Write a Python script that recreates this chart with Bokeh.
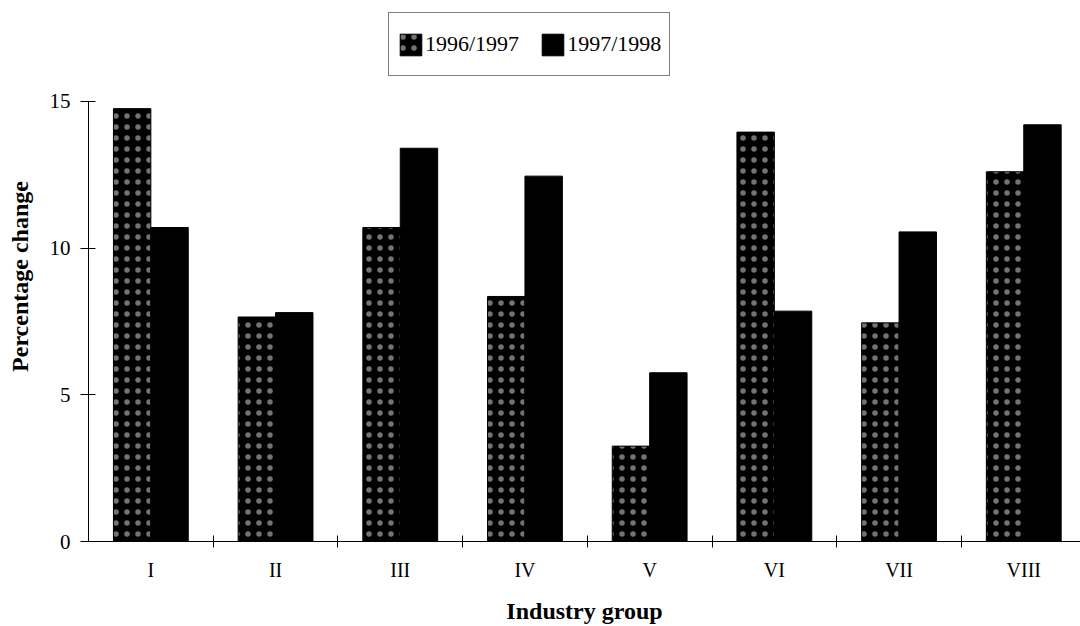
from bokeh.plotting import figure
from bokeh.models import Range1d, FixedTicker, Legend, LegendItem, ColumnDataSource
from bokeh.embed import file_html
from bokeh.resources import INLINE

# ---- data ----
groups = ["I", "II", "III", "IV", "V", "VI", "VII", "VIII"]
series_names = ["1996/1997", "1997/1998"]
change_96_97 = [14.75, 7.65, 10.7, 8.35, 3.25, 13.95, 7.45, 12.6]
change_97_98 = [10.7, 7.8, 13.4, 12.45, 5.75, 7.85, 10.55, 14.2]
y_ticks = [0, 5, 10, 15]

FONT = "Liberation Serif"

centers = [i + 0.5 for i in range(len(groups))]
bar_w = 0.3

src1 = ColumnDataSource(dict(x=[c - bar_w / 2 for c in centers], top=change_96_97))
src2 = ColumnDataSource(dict(x=[c + bar_w / 2 for c in centers], top=change_97_98))

# frame spans from the top of the legend down to the baseline; y axis drawn only over 0..15
p = figure(width=1080, height=626, output_backend="svg", toolbar_location=None,
           x_range=Range1d(0, 7.955), y_range=Range1d(0, 18.06),
           min_border_left=88, min_border_right=0, min_border_top=11, min_border_bottom=84)
p.outline_line_color = None
p.grid.visible = False
p.background_fill_color = "white"
p.border_fill_color = "white"

r1 = p.vbar(x="x", top="top", width=bar_w, source=src1, fill_color="black", line_color="black",
            hatch_pattern="dot", hatch_color="white", hatch_scale=11, hatch_weight=0.5, hatch_alpha=0.45)
r2 = p.vbar(x="x", top="top", width=bar_w, source=src2, fill_color="black", line_color="black")

# y axis
ya = p.yaxis[0]
ya.bounds = (0, 15)
ya.ticker = FixedTicker(ticks=y_ticks, minor_ticks=[])
ya.axis_line_color = "black"
ya.major_tick_line_color = "black"
ya.major_tick_in = 7
ya.major_tick_out = 8
ya.minor_tick_line_color = None
ya.major_label_text_font = FONT
ya.major_label_text_font_size = "21px"
ya.major_label_text_color = "black"
ya.major_label_standoff = 10
ya.axis_label = "Percentage change"
ya.axis_label_text_font = FONT
ya.axis_label_text_font_style = "bold"
ya.axis_label_text_font_size = "24px"
ya.axis_label_text_color = "black"
ya.axis_label_standoff = 14

# x axis
xa = p.xaxis[0]
xa.ticker = FixedTicker(ticks=centers, minor_ticks=list(range(1, len(groups))))
xa.major_label_overrides = {c: g for c, g in zip(centers, groups)}
xa.axis_line_color = "black"
xa.major_tick_in = 0
xa.major_tick_out = 0
xa.minor_tick_in = 6
xa.minor_tick_out = 6
xa.minor_tick_line_color = "black"
xa.major_label_text_font = FONT
xa.major_label_text_font_size = "20px"
xa.major_label_text_color = "black"
xa.major_label_standoff = 11
xa.axis_label = "Industry group"
xa.axis_label_text_font = FONT
xa.axis_label_text_font_style = "bold"
xa.axis_label_text_font_size = "24px"
xa.axis_label_text_color = "black"
xa.axis_label_standoff = 14

legend = Legend(items=[LegendItem(label=series_names[0], renderers=[r1]),
                       LegendItem(label=series_names[1], renderers=[r2])],
                orientation="horizontal", location=(300, 465),
                border_line_color="black", border_line_width=1,
                background_fill_color="white", background_fill_alpha=1,
                label_text_font=FONT, label_text_font_size="22px", label_text_color="black",
                glyph_width=27, glyph_height=27, label_height=46,
                padding=8, spacing=20, label_standoff=1, margin=0)
p.add_layout(legend, "center")

open("out.html", "w").write(file_html(p, INLINE))
